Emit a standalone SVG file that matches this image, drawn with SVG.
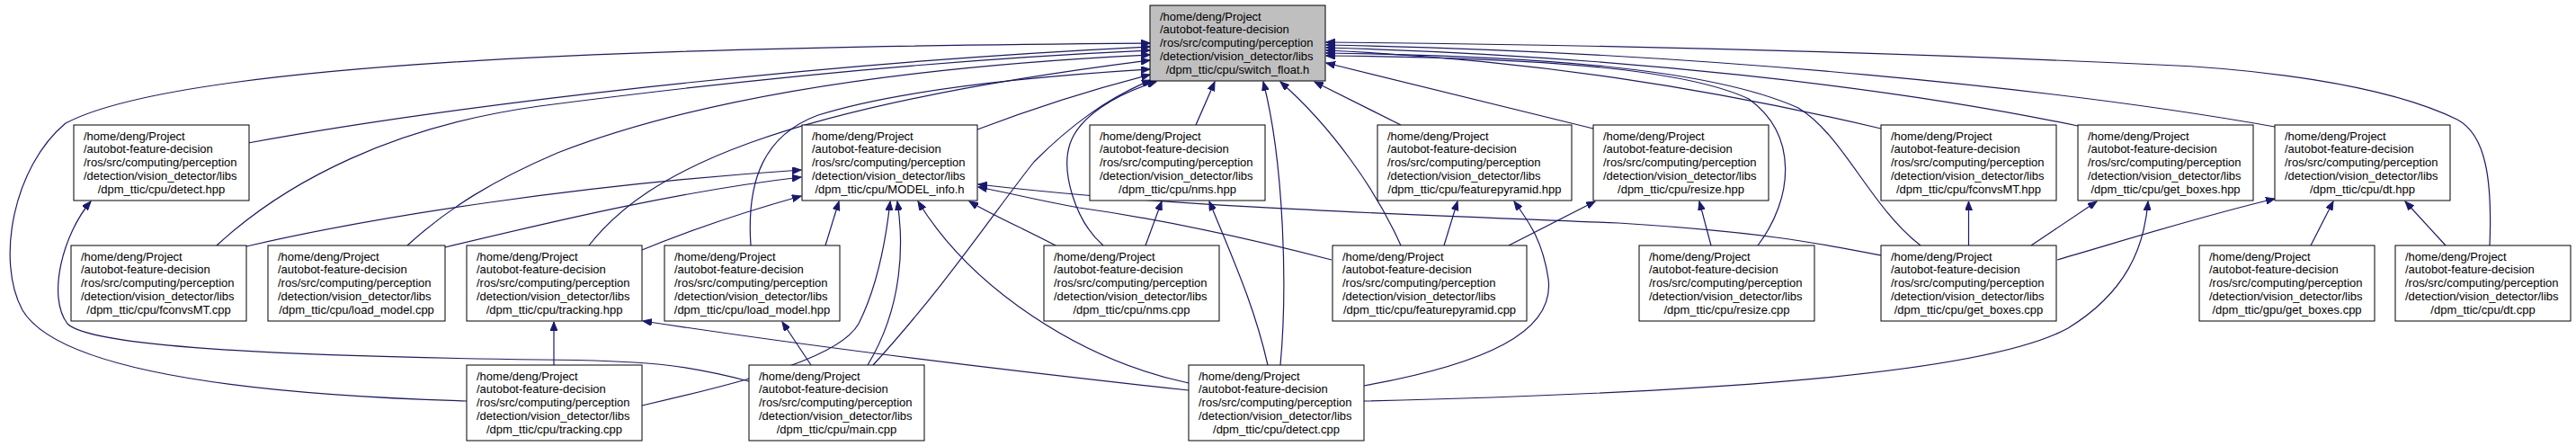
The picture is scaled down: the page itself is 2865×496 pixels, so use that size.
<svg xmlns="http://www.w3.org/2000/svg" width="2865" height="496" viewBox="0 0 2865 496">
<style>
.n rect{fill:#fff;stroke:#000;stroke-width:1}
.n.root rect{fill:#bfbfbf}
.n text{font-family:"Liberation Sans",Arial,sans-serif;font-size:13px;fill:#000}
.n .c{text-anchor:middle}
#edges path{fill:none;stroke:#191970;stroke-width:1.2;marker-end:url(#ah)}
</style>
<defs>
<marker id="ah" markerWidth="11" markerHeight="8" refX="10" refY="4" orient="auto" markerUnits="userSpaceOnUse">
<path d="M0,0 L10,4 L0,8 z" fill="#191970" stroke="#191970" stroke-width="1"/>
</marker>
</defs>
<rect width="2865" height="496" fill="#fff"/>
<g id="edges">
<path d="M519,446 C320,440 70,420 25,345 C-5,290 15,185 73,137 C200,70 700,52 1279,48"/>
<path d="M276,159 C500,118 900,70 1279,52"/>
<path d="M241,273 C320,200 440,140 600,118 C800,92 1050,66 1279,56"/>
<path d="M453,273 C500,230 550,200 620,170 C800,100 1050,72 1279,61"/>
<path d="M655,273 C720,190 860,120 1279,67"/>
<path d="M835,273 C830,200 850,150 910,128 C1000,100 1150,85 1279,77"/>
<path d="M1087,144 C1150,120 1220,98 1279,83"/>
<path d="M971,406 C1050,320 1110,230 1150,180 C1190,140 1230,110 1280,89"/>
<path d="M1227,273 C1195,245 1180,190 1190,160 C1200,130 1240,105 1286,91"/>
<path d="M1330,139 L1351,91"/>
<path d="M1424,406 C1432,320 1428,180 1405,91"/>
<path d="M1558,273 C1530,210 1480,140 1424,91"/>
<path d="M1558,139 L1462,91"/>
<path d="M1772,143 L1475,70"/>
<path d="M1955,273 C1995,220 2000,150 1945,110 C1870,75 1700,64 1475,62"/>
<path d="M2136,273 C2080,230 2050,150 2000,120 C1900,75 1700,62 1475,59"/>
<path d="M2092,143 C1900,98 1700,66 1475,56"/>
<path d="M2311,140 C2100,96 1800,62 1475,53"/>
<path d="M2530,141 C2300,100 1900,58 1475,50"/>
<path d="M2769,273 C2772,200 2765,150 2733,133 C2650,92 2500,76 2400,72 C2100,58 1800,50 1475,47"/>
<path d="M274,274 C420,240 650,205 891,189"/>
<path d="M495,275 C620,245 760,212 891,197"/>
<path d="M714,278 C770,255 830,235 891,218"/>
<path d="M918,273 L933,224"/>
<path d="M714,451 C850,420 935,395 955,360 C975,320 985,270 990,224"/>
<path d="M965,406 C1005,340 1005,270 998,224"/>
<path d="M1322,426 C1200,400 1080,320 1021,224"/>
<path d="M1174,273 C1140,255 1105,240 1078,224"/>
<path d="M1481,289 C1400,268 1300,245 1200,231 C1150,222 1120,214 1088,208"/>
<path d="M2092,284 C2020,270 1960,258 1800,248 C1550,238 1300,230 1088,205"/>
<path d="M1274,273 L1292,224"/>
<path d="M1410,406 C1395,340 1372,290 1345,224"/>
<path d="M1606,273 L1621,224"/>
<path d="M1517,429 C1650,405 1730,370 1722,310 C1716,270 1703,250 1684,224"/>
<path d="M1678,273 L1774,224"/>
<path d="M1903,273 L1890,224"/>
<path d="M2189.5,273 L2189.5,224"/>
<path d="M2259,273 L2332,224"/>
<path d="M1517,446 C1850,438 2200,420 2300,365 C2365,325 2385,275 2389,224"/>
<path d="M2288,289 C2380,262 2450,240 2530,221"/>
<path d="M2570,273 L2595,224"/>
<path d="M2720,273 L2675,224"/>
<path d="M902,406 L870,358"/>
<path d="M616,406 L616,358"/>
<path d="M1322,434 C1100,410 900,385 715,357"/>
<path d="M833,424 C760,405 720,401 600,400 C300,396 100,385 75,360 C52,330 70,260 101,224"/>
</g>
<g id="switch_float_h" class="n root"><rect x="1279" y="6" width="195" height="84"/><text><tspan x="1290" y="22.5">/home/deng/Project</tspan><tspan x="1290" y="37.3">/autobot-feature-decision</tspan><tspan x="1290" y="52">/ros/src/computing/perception</tspan><tspan x="1290" y="66.8">/detection/vision_detector/libs</tspan><tspan class="c" x="1376.5" y="81.5">/dpm_ttic/cpu/switch_float.h</tspan></text></g>
<g id="detect_hpp" class="n"><rect x="82" y="139" width="195" height="84"/><text><tspan x="93" y="155.5">/home/deng/Project</tspan><tspan x="93" y="170.3">/autobot-feature-decision</tspan><tspan x="93" y="185">/ros/src/computing/perception</tspan><tspan x="93" y="199.8">/detection/vision_detector/libs</tspan><tspan class="c" x="179.5" y="214.5">/dpm_ttic/cpu/detect.hpp</tspan></text></g>
<g id="MODEL_info_h" class="n"><rect x="892" y="139" width="195" height="84"/><text><tspan x="903" y="155.5">/home/deng/Project</tspan><tspan x="903" y="170.3">/autobot-feature-decision</tspan><tspan x="903" y="185">/ros/src/computing/perception</tspan><tspan x="903" y="199.8">/detection/vision_detector/libs</tspan><tspan class="c" x="989.5" y="214.5">/dpm_ttic/cpu/MODEL_info.h</tspan></text></g>
<g id="nms_hpp" class="n"><rect x="1212" y="139" width="195" height="84"/><text><tspan x="1223" y="155.5">/home/deng/Project</tspan><tspan x="1223" y="170.3">/autobot-feature-decision</tspan><tspan x="1223" y="185">/ros/src/computing/perception</tspan><tspan x="1223" y="199.8">/detection/vision_detector/libs</tspan><tspan class="c" x="1309.5" y="214.5">/dpm_ttic/cpu/nms.hpp</tspan></text></g>
<g id="featurepyramid_hpp" class="n"><rect x="1532" y="139" width="216" height="84"/><text><tspan x="1543" y="155.5">/home/deng/Project</tspan><tspan x="1543" y="170.3">/autobot-feature-decision</tspan><tspan x="1543" y="185">/ros/src/computing/perception</tspan><tspan x="1543" y="199.8">/detection/vision_detector/libs</tspan><tspan class="c" x="1640" y="214.5">/dpm_ttic/cpu/featurepyramid.hpp</tspan></text></g>
<g id="resize_hpp" class="n"><rect x="1772" y="139" width="195" height="84"/><text><tspan x="1783" y="155.5">/home/deng/Project</tspan><tspan x="1783" y="170.3">/autobot-feature-decision</tspan><tspan x="1783" y="185">/ros/src/computing/perception</tspan><tspan x="1783" y="199.8">/detection/vision_detector/libs</tspan><tspan class="c" x="1869.5" y="214.5">/dpm_ttic/cpu/resize.hpp</tspan></text></g>
<g id="fconvsMT_hpp" class="n"><rect x="2092" y="139" width="195" height="84"/><text><tspan x="2103" y="155.5">/home/deng/Project</tspan><tspan x="2103" y="170.3">/autobot-feature-decision</tspan><tspan x="2103" y="185">/ros/src/computing/perception</tspan><tspan x="2103" y="199.8">/detection/vision_detector/libs</tspan><tspan class="c" x="2189.5" y="214.5">/dpm_ttic/cpu/fconvsMT.hpp</tspan></text></g>
<g id="get_boxes_hpp" class="n"><rect x="2311" y="139" width="195" height="84"/><text><tspan x="2322" y="155.5">/home/deng/Project</tspan><tspan x="2322" y="170.3">/autobot-feature-decision</tspan><tspan x="2322" y="185">/ros/src/computing/perception</tspan><tspan x="2322" y="199.8">/detection/vision_detector/libs</tspan><tspan class="c" x="2408.5" y="214.5">/dpm_ttic/cpu/get_boxes.hpp</tspan></text></g>
<g id="dt_hpp" class="n"><rect x="2530" y="139" width="195" height="84"/><text><tspan x="2541" y="155.5">/home/deng/Project</tspan><tspan x="2541" y="170.3">/autobot-feature-decision</tspan><tspan x="2541" y="185">/ros/src/computing/perception</tspan><tspan x="2541" y="199.8">/detection/vision_detector/libs</tspan><tspan class="c" x="2627.5" y="214.5">/dpm_ttic/cpu/dt.hpp</tspan></text></g>
<g id="fconvsMT_cpp" class="n"><rect x="79" y="273" width="195" height="84"/><text><tspan x="90" y="289.5">/home/deng/Project</tspan><tspan x="90" y="304.3">/autobot-feature-decision</tspan><tspan x="90" y="319">/ros/src/computing/perception</tspan><tspan x="90" y="333.8">/detection/vision_detector/libs</tspan><tspan class="c" x="176.5" y="348.5">/dpm_ttic/cpu/fconvsMT.cpp</tspan></text></g>
<g id="load_model_cpp" class="n"><rect x="298" y="273" width="197" height="84"/><text><tspan x="309" y="289.5">/home/deng/Project</tspan><tspan x="309" y="304.3">/autobot-feature-decision</tspan><tspan x="309" y="319">/ros/src/computing/perception</tspan><tspan x="309" y="333.8">/detection/vision_detector/libs</tspan><tspan class="c" x="396.5" y="348.5">/dpm_ttic/cpu/load_model.cpp</tspan></text></g>
<g id="tracking_hpp" class="n"><rect x="519" y="273" width="195" height="84"/><text><tspan x="530" y="289.5">/home/deng/Project</tspan><tspan x="530" y="304.3">/autobot-feature-decision</tspan><tspan x="530" y="319">/ros/src/computing/perception</tspan><tspan x="530" y="333.8">/detection/vision_detector/libs</tspan><tspan class="c" x="616.5" y="348.5">/dpm_ttic/cpu/tracking.hpp</tspan></text></g>
<g id="load_model_hpp" class="n"><rect x="739" y="273" width="195" height="84"/><text><tspan x="750" y="289.5">/home/deng/Project</tspan><tspan x="750" y="304.3">/autobot-feature-decision</tspan><tspan x="750" y="319">/ros/src/computing/perception</tspan><tspan x="750" y="333.8">/detection/vision_detector/libs</tspan><tspan class="c" x="836.5" y="348.5">/dpm_ttic/cpu/load_model.hpp</tspan></text></g>
<g id="nms_cpp" class="n"><rect x="1161" y="273" width="195" height="84"/><text><tspan x="1172" y="289.5">/home/deng/Project</tspan><tspan x="1172" y="304.3">/autobot-feature-decision</tspan><tspan x="1172" y="319">/ros/src/computing/perception</tspan><tspan x="1172" y="333.8">/detection/vision_detector/libs</tspan><tspan class="c" x="1258.5" y="348.5">/dpm_ttic/cpu/nms.cpp</tspan></text></g>
<g id="featurepyramid_cpp" class="n"><rect x="1482" y="273" width="216" height="84"/><text><tspan x="1493" y="289.5">/home/deng/Project</tspan><tspan x="1493" y="304.3">/autobot-feature-decision</tspan><tspan x="1493" y="319">/ros/src/computing/perception</tspan><tspan x="1493" y="333.8">/detection/vision_detector/libs</tspan><tspan class="c" x="1590" y="348.5">/dpm_ttic/cpu/featurepyramid.cpp</tspan></text></g>
<g id="resize_cpp" class="n"><rect x="1823" y="273" width="195" height="84"/><text><tspan x="1834" y="289.5">/home/deng/Project</tspan><tspan x="1834" y="304.3">/autobot-feature-decision</tspan><tspan x="1834" y="319">/ros/src/computing/perception</tspan><tspan x="1834" y="333.8">/detection/vision_detector/libs</tspan><tspan class="c" x="1920.5" y="348.5">/dpm_ttic/cpu/resize.cpp</tspan></text></g>
<g id="get_boxes_cpp" class="n"><rect x="2092" y="273" width="195" height="84"/><text><tspan x="2103" y="289.5">/home/deng/Project</tspan><tspan x="2103" y="304.3">/autobot-feature-decision</tspan><tspan x="2103" y="319">/ros/src/computing/perception</tspan><tspan x="2103" y="333.8">/detection/vision_detector/libs</tspan><tspan class="c" x="2189.5" y="348.5">/dpm_ttic/cpu/get_boxes.cpp</tspan></text></g>
<g id="gpu_get_boxes_cpp" class="n"><rect x="2446" y="273" width="195" height="84"/><text><tspan x="2457" y="289.5">/home/deng/Project</tspan><tspan x="2457" y="304.3">/autobot-feature-decision</tspan><tspan x="2457" y="319">/ros/src/computing/perception</tspan><tspan x="2457" y="333.8">/detection/vision_detector/libs</tspan><tspan class="c" x="2543.5" y="348.5">/dpm_ttic/gpu/get_boxes.cpp</tspan></text></g>
<g id="dt_cpp" class="n"><rect x="2664" y="273" width="195" height="84"/><text><tspan x="2675" y="289.5">/home/deng/Project</tspan><tspan x="2675" y="304.3">/autobot-feature-decision</tspan><tspan x="2675" y="319">/ros/src/computing/perception</tspan><tspan x="2675" y="333.8">/detection/vision_detector/libs</tspan><tspan class="c" x="2761.5" y="348.5">/dpm_ttic/cpu/dt.cpp</tspan></text></g>
<g id="tracking_cpp" class="n"><rect x="519" y="406" width="195" height="84"/><text><tspan x="530" y="422.5">/home/deng/Project</tspan><tspan x="530" y="437.3">/autobot-feature-decision</tspan><tspan x="530" y="452">/ros/src/computing/perception</tspan><tspan x="530" y="466.8">/detection/vision_detector/libs</tspan><tspan class="c" x="616.5" y="481.5">/dpm_ttic/cpu/tracking.cpp</tspan></text></g>
<g id="main_cpp" class="n"><rect x="833" y="406" width="195" height="84"/><text><tspan x="844" y="422.5">/home/deng/Project</tspan><tspan x="844" y="437.3">/autobot-feature-decision</tspan><tspan x="844" y="452">/ros/src/computing/perception</tspan><tspan x="844" y="466.8">/detection/vision_detector/libs</tspan><tspan class="c" x="930.5" y="481.5">/dpm_ttic/cpu/main.cpp</tspan></text></g>
<g id="detect_cpp" class="n"><rect x="1322" y="406" width="195" height="84"/><text><tspan x="1333" y="422.5">/home/deng/Project</tspan><tspan x="1333" y="437.3">/autobot-feature-decision</tspan><tspan x="1333" y="452">/ros/src/computing/perception</tspan><tspan x="1333" y="466.8">/detection/vision_detector/libs</tspan><tspan class="c" x="1419.5" y="481.5">/dpm_ttic/cpu/detect.cpp</tspan></text></g>
</svg>
